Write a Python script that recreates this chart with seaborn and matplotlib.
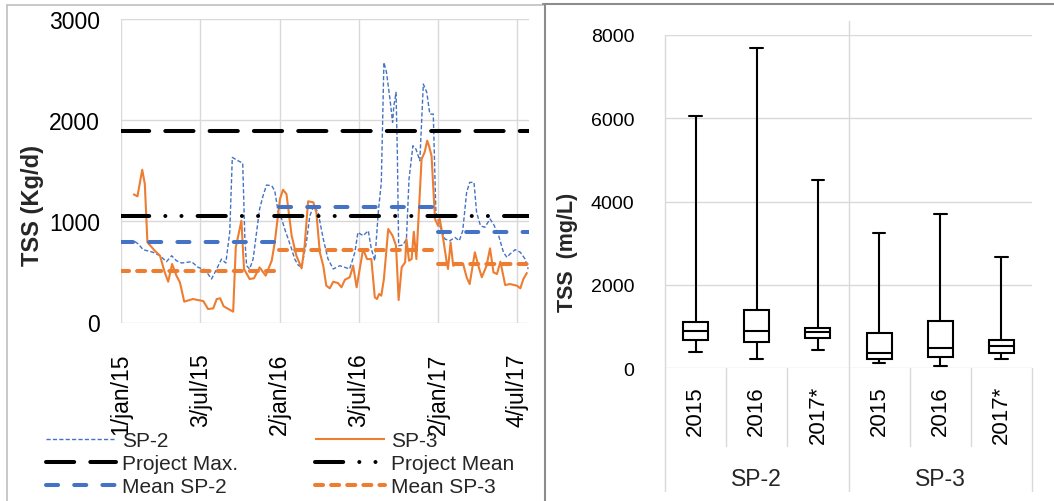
import numpy as np
import pandas as pd
import matplotlib
matplotlib.use("Agg")
import matplotlib.pyplot as plt
from matplotlib.lines import Line2D
import seaborn as sns

sns.set_theme(style="white")
plt.rcParams["font.family"] = ["Liberation Sans", "DejaVu Sans"]

# ---------------- data: left chart (TSS load, Kg/d) ----------------
sp2_dates = ["2015-02-02", "2015-02-10", "2015-02-21", "2015-03-16", "2015-04-01", "2015-04-16",
             "2015-04-28", "2015-05-09", "2015-05-21", "2015-06-13", "2015-06-28", "2015-07-14",
             "2015-07-21", "2015-07-29", "2015-08-10", "2015-08-21", "2015-08-31", "2015-09-09",
             "2015-09-15", "2015-09-28", "2015-10-09", "2015-10-14", "2015-10-18", "2015-10-25",
             "2015-11-02", "2015-11-10", "2015-11-17", "2015-11-25", "2015-12-03", "2015-12-15",
             "2015-12-22", "2015-12-30", "2016-01-07", "2016-01-14", "2016-01-22", "2016-01-30",
             "2016-02-06", "2016-02-14", "2016-02-22", "2016-03-04", "2016-03-12", "2016-03-21",
             "2016-03-31", "2016-04-12", "2016-04-23", "2016-05-05", "2016-05-20", "2016-06-01",
             "2016-06-12", "2016-06-24", "2016-07-01", "2016-07-13", "2016-07-25", "2016-08-01",
             "2016-08-09", "2016-08-17", "2016-08-24", "2016-08-30", "2016-09-05", "2016-09-13",
             "2016-09-19", "2016-09-22", "2016-09-27", "2016-09-30", "2016-10-03", "2016-10-13",
             "2016-10-21", "2016-10-27", "2016-11-05", "2016-11-12", "2016-11-21", "2016-11-29",
             "2016-12-07", "2016-12-14", "2016-12-22", "2016-12-28", "2017-01-06", "2017-01-18",
             "2017-01-29", "2017-02-10", "2017-02-20", "2017-02-28", "2017-03-09", "2017-03-16",
             "2017-03-26", "2017-04-01", "2017-04-10", "2017-04-20", "2017-05-02", "2017-05-10",
             "2017-05-22", "2017-06-02", "2017-06-10", "2017-06-17", "2017-06-29", "2017-07-11",
             "2017-07-22", "2017-07-29"]
sp2_values = [800, 776, 720, 694, 660, 601,
              660, 611, 588, 601, 545, 522,
              479, 430, 529, 627, 588, 891,
              1632, 1599, 1576, 825, 561, 529,
              627, 891, 1122, 1253, 1359, 1352,
              1302, 1089, 1023, 924, 825, 726,
              627, 568, 545, 792, 1055, 1154,
              1089, 825, 627, 529, 561, 545,
              529, 694, 891, 858, 907, 726,
              611, 1089, 1385, 2571, 2472, 2208,
              1978, 2142, 2275, 1682, 759, 766,
              825, 1418, 1747, 1714, 1599, 2357,
              2275, 2060, 2060, 1089, 956, 825,
              808, 841, 808, 907, 1287, 1385,
              1385, 1089, 956, 941, 1023, 973,
              858, 694, 644, 677, 720, 694,
              627, 529]

sp3_dates = ["2015-01-29", "2015-02-08", "2015-02-19", "2015-02-25", "2015-03-03", "2015-03-20",
             "2015-04-01", "2015-04-12", "2015-04-20", "2015-04-29", "2015-05-09", "2015-05-17",
             "2015-05-27", "2015-06-16", "2015-07-10", "2015-07-21", "2015-08-02", "2015-08-10",
             "2015-08-18", "2015-08-26", "2015-09-17", "2015-09-23", "2015-10-06", "2015-10-12",
             "2015-10-25", "2015-11-04", "2015-11-17", "2015-12-01", "2015-12-15", "2015-12-22",
             "2016-01-03", "2016-01-10", "2016-01-18", "2016-01-30", "2016-02-10", "2016-02-22",
             "2016-02-29", "2016-03-08", "2016-03-20", "2016-03-27", "2016-04-04", "2016-04-12",
             "2016-04-19", "2016-04-27", "2016-05-05", "2016-05-16", "2016-05-24", "2016-06-01",
             "2016-06-12", "2016-06-20", "2016-06-28", "2016-07-13", "2016-07-22", "2016-08-01",
             "2016-08-09", "2016-08-14", "2016-08-19", "2016-08-24", "2016-08-30", "2016-09-09",
             "2016-09-19", "2016-09-27", "2016-10-03", "2016-10-10", "2016-10-18", "2016-10-21",
             "2016-10-27", "2016-11-02", "2016-11-07", "2016-11-13", "2016-11-25", "2016-12-02",
             "2016-12-08", "2016-12-12", "2016-12-18", "2016-12-26", "2017-01-02", "2017-01-06",
             "2017-01-14", "2017-01-22", "2017-01-25", "2017-01-31", "2017-02-06", "2017-02-17",
             "2017-03-01", "2017-03-09", "2017-03-16", "2017-03-28", "2017-04-05", "2017-04-13",
             "2017-04-24", "2017-05-02", "2017-05-10", "2017-05-18", "2017-05-26", "2017-06-06",
             "2017-06-17", "2017-07-03", "2017-07-11", "2017-07-18", "2017-07-27"]
sp3_values = [1270, 1247, 1510, 1369, 792, 710,
              660, 496, 403, 578, 463, 397,
              206, 232, 212, 133, 140, 232,
              239, 160, 107, 743, 1006, 529,
              430, 437, 545, 463, 611, 792,
              1220, 1312, 1270, 858, 660, 535,
              759, 1198, 1188, 1089, 694, 561,
              364, 338, 403, 390, 348, 423,
              447, 561, 348, 726, 627, 627,
              249, 232, 282, 265, 430, 924,
              858, 759, 222, 545, 595, 825,
              611, 627, 897, 627, 1616, 1682,
              1797, 1747, 1648, 1023, 956, 1023,
              825, 595, 529, 792, 561, 588,
              578, 447, 380, 694, 561, 447,
              561, 733, 496, 479, 601, 370,
              380, 364, 338, 430, 496]

project_max = 1890
project_mean = 1050
period_start = "2015-01-01"
period_end = "2017-07-31"
year_starts = ["2015-01-01", "2016-01-01", "2017-01-01"]
year_ends = ["2016-01-01", "2017-01-01", "2017-07-31"]
mean_sp2 = [800, 1140, 890]
mean_sp3 = [510, 720, 580]

date_ticks = ["2015-01-01", "2015-07-03", "2016-01-02", "2016-07-03", "2017-01-02", "2017-07-04"]
date_labels = ["1/jan/15", "3/jul/15", "2/jan/16", "3/jul/16", "2/jan/17", "4/jul/17"]
left_yticks = [0, 1000, 2000, 3000]

# ---------------- data: right chart (TSS concentration, mg/L) ----------------
box_sites = ["SP-2", "SP-3"]
box_years = ["2015", "2016", "2017*"]
box_min = [384, 216, 446, 120, 55, 223]
box_q1 = [671, 631, 719, 223, 278, 374]
box_median = [887, 902, 878, 374, 480, 535]
box_q3 = [1103, 1391, 966, 839, 1127, 686]
box_max = [6060, 7680, 4515, 3237, 3708, 2662]
right_yticks = [0, 2000, 4000, 6000, 8000]

# ---------------- styles ----------------
BLUE = "#4472C4"
ORANGE = "#ED7D31"
GRID = "#D9D9D9"
W = 2.9  # thick line width (pt)

styles = {
    "SP-2": dict(color=BLUE, lw=1.0, dashes=(3, 1.6), capstyle="butt"),
    "SP-3": dict(color=ORANGE, lw=1.5, dashes=None, capstyle="butt"),
    "Project Max.": dict(color="black", lw=W, dashes=(7, 4), capstyle="round"),
    "Project Mean": dict(color="black", lw=W, dashes=(7, 4, 0.01, 4, 0.01, 4), capstyle="round"),
    "Mean SP-2": dict(color=BLUE, lw=W, dashes=(3, 4), capstyle="round"),
    "Mean SP-3": dict(color=ORANGE, lw=W, dashes=(2, 2), capstyle="round"),
}


def style_line(line, st):
    line.set_color(st["color"])
    line.set_linewidth(st["lw"])
    if st["dashes"] is not None:
        line.set_dashes(st["dashes"])
        line.set_dash_capstyle(st["capstyle"])
    else:
        line.set_linestyle("-")
        line.set_solid_capstyle("butt")


FW, FH = 1054, 502
fig = plt.figure(figsize=(FW / 100, FH / 100), dpi=100)
fig.patch.set_facecolor("white")

# ================= LEFT CHART =================
ax1 = fig.add_axes([121 / FW, (FH - 323.5) / FH, 408 / FW, 303.5 / FH])
ax1.set_facecolor("white")

df2 = pd.DataFrame({"date": pd.to_datetime(sp2_dates), "v": sp2_values})
df3 = pd.DataFrame({"date": pd.to_datetime(sp3_dates), "v": sp3_values})


def add_series(df, key):
    n = len(ax1.lines)
    sns.lineplot(data=df, x="date", y="v", ax=ax1, estimator=None, sort=False, legend=False)
    for ln in ax1.lines[n:]:
        style_line(ln, styles[key])


add_series(df2, "SP-2")
add_series(df3, "SP-3")

full = pd.to_datetime([period_start, period_end])
add_series(pd.DataFrame({"date": full, "v": [project_max] * 2}), "Project Max.")
add_series(pd.DataFrame({"date": full, "v": [project_mean] * 2}), "Project Mean")
for s, e, v in zip(year_starts, year_ends, mean_sp2):
    add_series(pd.DataFrame({"date": pd.to_datetime([s, e]), "v": [v, v]}), "Mean SP-2")
for s, e, v in zip(year_starts, year_ends, mean_sp3):
    add_series(pd.DataFrame({"date": pd.to_datetime([s, e]), "v": [v, v]}), "Mean SP-3")

ax1.set_xlim(pd.Timestamp(period_start), pd.Timestamp(period_end))
ax1.set_ylim(0, 3000)
ax1.set_xticks(pd.to_datetime(date_ticks))
ax1.set_xticklabels(date_labels, rotation=90, fontsize=16.5)
ax1.set_yticks(left_yticks)
ax1.set_yticklabels([str(t) for t in left_yticks], fontsize=16.5)
ax1.tick_params(axis="x", length=4.5, width=1.0, color=GRID, pad=17, labelcolor="black")
ax1.tick_params(axis="y", length=4.5, width=1.0, color=GRID, pad=10.5, labelcolor="black")
ax1.grid(True, color=GRID, lw=1.0)
ax1.set_axisbelow(True)
for sp in ax1.spines.values():
    sp.set_visible(False)
ax1.set_xlabel("")
ax1.set_ylabel("")
fig.text(33 / FW, 1 - 205 / FH, "TSS (Kg/d)", rotation=90, ha="center", va="center",
         fontsize=17, fontweight="bold")

handles = []
labels = ["SP-2", "Project Max.", "Mean SP-2", "SP-3", "Project Mean", "Mean SP-3"]
for lab in labels:
    h = Line2D([0], [0])
    style_line(h, styles[lab])
    handles.append(h)
fig.legend(handles, labels, ncol=2, loc="upper left", bbox_to_anchor=(46 / FW, 1 - 432 / FH),
           frameon=False, fontsize=15, handlelength=3.35, handletextpad=0.3,
           columnspacing=3.7, labelspacing=0.2, borderpad=0, borderaxespad=0)

# ================= RIGHT CHART =================
ax2 = fig.add_axes([665 / FW, (FH - 369.3) / FH, 367 / FW, 333.6 / FH])
ax2.set_facecolor("white")

keys, vals = [], []
for i, (site, yr) in enumerate([(s, y) for s in box_sites for y in box_years]):
    k = f"{site} {yr}"
    for v in (box_min[i], box_q1[i], box_median[i], box_q3[i], box_max[i]):
        keys.append(k)
        vals.append(v)
order = [f"{s} {y}" for s in box_sites for y in box_years]
dfb = pd.DataFrame({"key": keys, "value": vals})
sns.boxplot(data=dfb, x="key", y="value", order=order, whis=(0, 100), width=0.41,
            color="white", linecolor="black", linewidth=1.5, fliersize=0, ax=ax2)

ax2.set_xlim(-0.5, 5.5)
ax2.set_ylim(0, 8000)
ax2.set_yticks(right_yticks)
ax2.set_yticklabels([str(t) for t in right_yticks], fontsize=14)
ax2.set_xticks(range(len(order)))
ax2.set_xticklabels(box_years * len(box_sites), rotation=90, fontsize=16, va="top")
ax2.tick_params(axis="x", length=0, pad=12, labelcolor="black")
ax2.tick_params(axis="y", length=0, pad=22, labelcolor="black")
ax2.grid(True, axis="y", color=GRID, lw=1.0)
ax2.grid(False, axis="x")
ax2.set_axisbelow(True)
for sp in ax2.spines.values():
    sp.set_visible(False)
ax2.set_xlabel("")
ax2.set_ylabel("")

trans = ax2.get_xaxis_transform()
bottom = (369.3 - 492) / 333.6
mid = (369.3 - 447) / 333.6
top_div = (369.3 - 22) / 333.6
for x0, y0, y1 in [(-0.5, bottom, 1.0), (2.5, bottom, top_div), (5.5, bottom, 0.0),
                   (0.5, mid, 0.0), (1.5, mid, 0.0), (3.5, mid, 0.0), (4.5, mid, 0.0)]:
    ax2.add_line(Line2D([x0, x0], [y0, y1], transform=trans, color=GRID, lw=1.0,
                        clip_on=False, zorder=0))
for j, site in enumerate(box_sites):
    ax2.text(1 + 3 * j, (369.3 - 480) / 333.6, site, transform=trans, ha="center",
             va="center", fontsize=16.5)
fig.text(568 / FW, 1 - 252 / FH, "TSS  (mg/L)", rotation=90, ha="center", va="center",
         fontsize=15.5, fontweight="bold")

# ================= panel borders =================
fig.add_artist(Line2D([7 / FW, 543 / FW], [1 - 6 / FH, 1 - 6 / FH], transform=fig.transFigure,
                      color="#BFBFBF", lw=1.2))
fig.add_artist(Line2D([7 / FW, 7 / FW], [0, 1 - 6 / FH], transform=fig.transFigure,
                      color="#BFBFBF", lw=1.2))
fig.add_artist(Line2D([543 / FW, 1.0], [1 - 5 / FH, 1 - 5 / FH], transform=fig.transFigure,
                      color="#8C8C8C", lw=1.5))
fig.add_artist(Line2D([545 / FW, 545 / FW], [0, 1 - 5 / FH], transform=fig.transFigure,
                      color="#8C8C8C", lw=1.5))

fig.savefig("out.png", dpi=100, facecolor="white")
